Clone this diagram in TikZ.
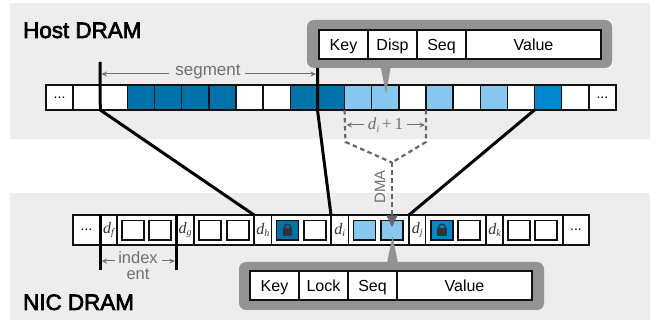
\documentclass[tikz,border=0pt]{standalone}
\usepackage{fontspec}
\setmainfont{Liberation Sans}
\newfontfamily\tmsfont{Liberation Serif}
\newfontfamily\titlefont[FakeBold=3]{Liberation Sans}
\usetikzlibrary{arrows.meta}
\definecolor{paneltone}{HTML}{EDEDED}
\definecolor{bubbletone}{HTML}{939393}
\definecolor{darkblue}{HTML}{0072AA}
\definecolor{midblue}{HTML}{0088CC}
\definecolor{lightblue}{HTML}{86C8F0}
\definecolor{cellline}{HTML}{111111}
\definecolor{notegray}{HTML}{707070}
\definecolor{dashgray}{HTML}{666666}
\definecolor{locktone}{HTML}{333333}
\newcommand{\fsz}[1]{\fontsize{#1}{#1}\selectfont}
\newcommand{\dsub}[1]{{\tmsfont\itshape\fsz{16}\textcolor{locktone}{d\raisebox{-2.5pt}{\fsz{10}#1}}}}
\newcommand{\tdots}{...}
\tikzset{
  x=1pt,y=-1pt,
  panel/.style={fill=paneltone,draw=none},
  cell/.style={draw=cellline,line width=1.4pt,fill=white,inner sep=0pt,outer sep=0pt,anchor=north west,minimum height=25pt,minimum width=27.14pt,font=\fsz{14}},
  slot/.style={draw=cellline,line width=1.4pt,fill=white,inner sep=0pt,outer sep=0pt,anchor=north west,minimum height=30pt},
  inner/.style={draw=cellline,line width=1.5pt,fill=white,inner sep=0pt,outer sep=0pt,anchor=north west,minimum width=22pt,minimum height=19.5pt},
  bubble/.style={fill=bubbletone,draw=none,rounded corners=7pt,inner sep=0pt,outer sep=0pt,anchor=north west,minimum width=305pt,minimum height=48pt},
  field/.style={draw=cellline,line width=1.6pt,fill=white,inner sep=0pt,outer sep=0pt,anchor=north west,minimum height=29pt,font=\fsz{16},text height=11.5pt,text depth=0pt},
  heavy/.style={draw=black,line width=3pt},
  sepline/.style={draw=cellline,line width=2.6pt},
  note/.style={text=notegray,inner sep=0pt,outer sep=0pt},
  dim/.style={draw=notegray,line width=1pt,-{Stealth[length=5.5pt,width=5pt]}},
  dma/.style={draw=dashgray,line width=2.2pt,dash pattern=on 4.5pt off 3.5pt},
  title/.style={font=\titlefont\fsz{22.4},inner sep=0pt,anchor=base west},
}
\newcommand{\bslot}[4]{\node[slot,minimum width={(#3-#2)*1pt}] (#1) at (#2,215) {#4};}
\newcommand{\binner}[3]{\node[inner,fill=#3] (#1) at (#2,220.7) {};}
\newcommand{\lockat}[1]{%
  \draw[locktone,line width=1.3pt] (#1-3.2,229) -- (#1-3.2,227.3) arc[start angle=180,end angle=360,x radius=3.2pt,y radius=-3.2pt] -- (#1+3.2,229);
  \fill[locktone] (#1-4.7,228) rectangle (#1+4.7,236.3);}
\begin{document}
\begin{tikzpicture}
\useasboundingbox (0,0) rectangle (654,320);
\fill[white] (0,0) rectangle (654,320);
\node[panel,inner sep=0pt,outer sep=0pt,anchor=north west,minimum width=640pt,minimum height=136pt] (hostpanel) at (10,3) {};
\node[panel,inner sep=0pt,outer sep=0pt,anchor=north west,minimum width=640pt,minimum height=127pt] (nicpanel) at (10,193) {};
\node[title] (hosttitle) at (23,38) {Host DRAM};
\node[title] (nictitle) at (23,310) {NIC DRAM};
% host row
\foreach \i/\c/\t in {0/white/\tdots,1/white/,2/white/,3/darkblue/,4/darkblue/,5/darkblue/,6/darkblue/,7/white/,8/white/,9/darkblue/,10/darkblue/,11/lightblue/,12/lightblue/,13/white/,14/lightblue/,15/white/,16/lightblue/,17/white/,18/midblue/,19/white/,20/white/\tdots}
  \node[cell,fill=\c] (t\i) at ({46+27.14*\i},85) {\t};
% nic row
\bslot{bdots}{73}{100}{\fsz{14}...}
\bslot{df}{100}{117}{\dsub{f}}
\bslot{ba}{117}{176}{}
\bslot{dg}{176}{194}{\dsub{g}}
\bslot{bb}{194}{254}{}
\bslot{dh}{254}{271.5}{\dsub{h}}
\bslot{bc}{271.5}{331}{}
\bslot{di}{331}{348.5}{\dsub{i}}
\bslot{bd}{348.5}{409}{}
\bslot{dj}{409}{425.5}{\dsub{j}}
\bslot{be}{425.5}{486}{}
\bslot{dk}{486}{503}{\dsub{k}}
\bslot{bf}{503}{563}{}
\bslot{bdotsr}{563}{589}{\fsz{14}...}
\binner{a1}{122}{white}\binner{a2}{149}{white}
\binner{b1}{199}{white}\binner{b2}{227}{white}
\binner{c1}{276.5}{darkblue}\binner{c2}{304}{white}
\binner{d1}{353.5}{lightblue}\binner{d2}{381}{lightblue}
\binner{e1}{431}{midblue}\binner{e2}{458}{white}
\binner{f1}{508}{white}\binner{f2}{535}{white}
\lockat{287.5}
\lockat{442}
% bubbles
\node[bubble] (topbubble) at (307,20) {};
\fill[bubbletone] (380.7,67) -- (390.7,67) -- (386,94) -- cycle;
\node[bubble] (botbubble) at (239,262) {};
\fill[bubbletone] (387,263) -- (398,263) -- (392.5,236) -- cycle;
\node[field,minimum width=49pt] (tk) at (319,30) {Key};
\node[field,minimum width=49pt] (td) at (368,30) {Disp};
\node[field,minimum width=49pt] (ts) at (417,30) {Seq};
\node[field,minimum width=135pt] (tv) at (466,30) {Value};
\node[field,minimum width=49pt] (bk) at (250,271) {Key};
\node[field,minimum width=49pt] (bl) at (299,271) {Lock};
\node[field,minimum width=49pt] (bs) at (348,271) {Seq};
\node[field,minimum width=135pt] (bv) at (397,271) {Value};
% heavy connectors
\coordinate (segtop) at (100,62);
\coordinate (segbot) at (317.5,68);
\draw[heavy,line join=miter] (segtop) -- (t2.south west) -- (dh.north west);
\draw[heavy] (segbot) -- (317.5,110) -- (di.north west);
\draw[heavy] (t18.south west) -- (dj.north west);
\coordinate (ftick) at (100,270);
\coordinate (gtick) at (176,270);
\draw[heavy] (df.north west) -- (ftick);
\draw[heavy] (dg.north west) -- (gtick);
\draw[sepline] (dh.north west) -- (dh.south west);
\draw[sepline] (di.north west) -- (di.south west);
\draw[sepline] (dj.north west) -- (dj.south west);
\draw[sepline] (dk.north west) -- (dk.south west);
% segment dimension
\node[note,font=\fsz{17},text height=12pt,text depth=4pt] (seglabel) at (208,72) {segment};
\coordinate (segl) at (101.5,74);
\coordinate (segr) at (316,74);
\draw[dim] (169,74) -- (segl);
\draw[dim] (245,74) -- (segr);
% index entry
\node[note,font=\fsz{16.5},align=center,anchor=base] (idxlabel) at (138,279.5) {index\\[-0.5pt]ent};
\coordinate (idxl) at (101.5,261);
\coordinate (idxr) at (175,261);
\draw[dim] (115,261) -- (idxl);
\draw[dim] (162,261) -- (idxr);
% dma
\coordinate (dmajoin) at (392,162.5);
\coordinate (dmaend) at (392,227);
\draw[dma] (t11.south west) -- (345.5,142) -- (dmajoin);
\draw[dma] (t14.south west) -- (426,142) -- (dmajoin);
\draw[dma] (dmajoin) -- (392,216);
\fill[dashgray] (386.5,215.5) -- (397.5,215.5) -- (dmaend) -- cycle;
\node[note,rotate=90,font=\fsz{15}] (dmalabel) at (380,187) {DMA};
% d_i + 1
\node[note,font=\fsz{17}\tmsfont] (dilabel) at (385.5,125) {\textit{d}\raisebox{-2.5pt}{\fsz{10}\textit{i}}\,+\,1};
\coordinate (dil) at (346.5,125);
\coordinate (dir) at (425,125);
\draw[dim] (364,125) -- (dil);
\draw[dim] (407,125) -- (dir);
\end{tikzpicture}
\end{document}
